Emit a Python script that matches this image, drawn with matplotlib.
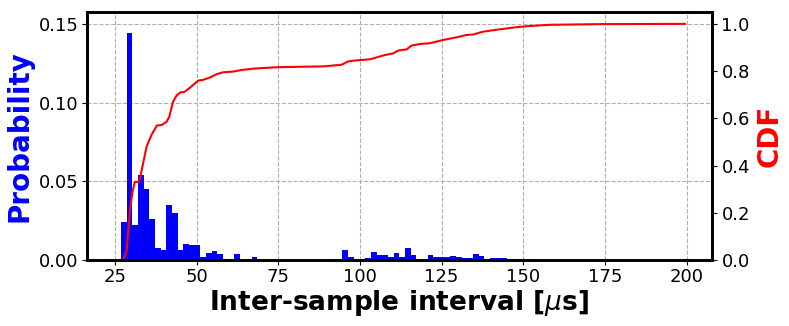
import numpy as np
import matplotlib
matplotlib.use("Agg")
import matplotlib.pyplot as plt

# histogram: 100 bins between min and max interval
bin_lo = 25.1
bin_hi = 199.0
prob = [0.0, 0.024, 0.144, 0.0225, 0.054, 0.045, 0.026, 0.008, 0.0063, 0.0347,
        0.030, 0.0067, 0.0105, 0.0093, 0.0095, 0.0017, 0.0048, 0.0059, 0.0036, 0.0004,
        0.0004, 0.0036, 0.0004, 0.0004, 0.0017, 0.0, 0.0, 0.0, 0.0, 0.0,
        0.0, 0.0, 0.0, 0.0, 0.0, 0.0002, 0.0003, 0.0004, 0.0006, 0.001,
        0.0063, 0.0023, 0.0, 0.0, 0.0013, 0.005, 0.003, 0.003, 0.0022, 0.0044,
        0.0019, 0.0074, 0.0032, 0.0004, 0.001, 0.0032, 0.0019, 0.0019, 0.0023, 0.0025,
        0.0022, 0.0013, 0.0015, 0.0036, 0.0025, 0.001, 0.0013, 0.0013, 0.0012, 0.0006,
        0.0008, 0.001, 0.0006, 0.0002, 0.0, 0.0, 0.0, 0.0, 0.0, 0.0,
        0.0, 0.0, 0.0, 0.0, 0.0, 0.0, 0.0, 0.0, 0.0, 0.0,
        0.0, 0.0, 0.0, 0.0, 0.0, 0.0, 0.0, 0.0, 0.0, 0.0001]

# CDF curve
cdf_x = [27.5, 28.6, 29.6, 30.4, 31.1, 32.4, 33.2, 34.7, 36.2, 37.9, 39.3, 40.8,
         41.6, 42.8, 43.9, 45.2, 46.2, 48.0, 50.5, 52.0, 54.1, 56.1, 58.1, 61.2,
         63.8, 67.8, 71.4, 75.5, 88.8, 94.4, 96.4, 98.5, 103.1, 105.1, 107.6, 110.2,
         111.7, 114.3, 115.8, 118.4, 121.4, 125.5, 129.6, 132.7, 134.7, 137.7, 142.8,
         148.0, 151.0, 158.1, 173.4, 199.5]
cdf_y = [0.0, 0.04, 0.21, 0.29, 0.331, 0.331, 0.38, 0.48, 0.53, 0.57, 0.572, 0.585,
         0.605, 0.67, 0.697, 0.711, 0.711, 0.73, 0.76, 0.763, 0.773, 0.787, 0.795, 0.798,
         0.805, 0.811, 0.814, 0.817, 0.82, 0.827, 0.841, 0.845, 0.85, 0.858, 0.868, 0.875,
         0.887, 0.892, 0.908, 0.915, 0.918, 0.932, 0.943, 0.953, 0.955, 0.967, 0.977,
         0.986, 0.99, 0.996, 0.999, 1.0]

edges = np.linspace(bin_lo, bin_hi, len(prob) + 1)

fig = plt.figure(figsize=(7.89, 3.26), dpi=100)
ax1 = fig.add_axes([0.110, 0.202, 0.792, 0.761])
ax1.hist(edges[:-1], bins=edges, weights=prob, color='blue', zorder=2)
ax1.set_ylim(0, 0.1575)
ax1.set_xlim(16.4, 207.7)
ax1.set_xticks([25, 50, 75, 100, 125, 150, 175, 200])
ax1.set_yticks([0.0, 0.05, 0.10, 0.15])
ax1.grid(True, linestyle='--', color='#b0b0b0', linewidth=0.8, zorder=0)
ax1.set_axisbelow(True)
ax1.set_xlabel(r'Inter-sample interval [$\mu$s]', fontsize=19, fontweight='bold', labelpad=1)
ax1.set_ylabel('Probability', fontsize=20, fontweight='bold', color='blue')
ax1.tick_params(labelsize=13, pad=2.5)

ax2 = ax1.twinx()
ax2.plot(cdf_x, cdf_y, color='red', linewidth=1.5)
ax2.set_xlim(16.4, 207.7)
ax2.set_ylim(0, 1.05)
ax2.set_yticks([0.0, 0.2, 0.4, 0.6, 0.8, 1.0])
ax2.set_ylabel('CDF', fontsize=20, fontweight='bold', color='red')
ax2.tick_params(labelsize=13)

for ax in (ax1, ax2):
    for sp in ax.spines.values():
        sp.set_linewidth(2)

fig.savefig('out.png', dpi=100)
